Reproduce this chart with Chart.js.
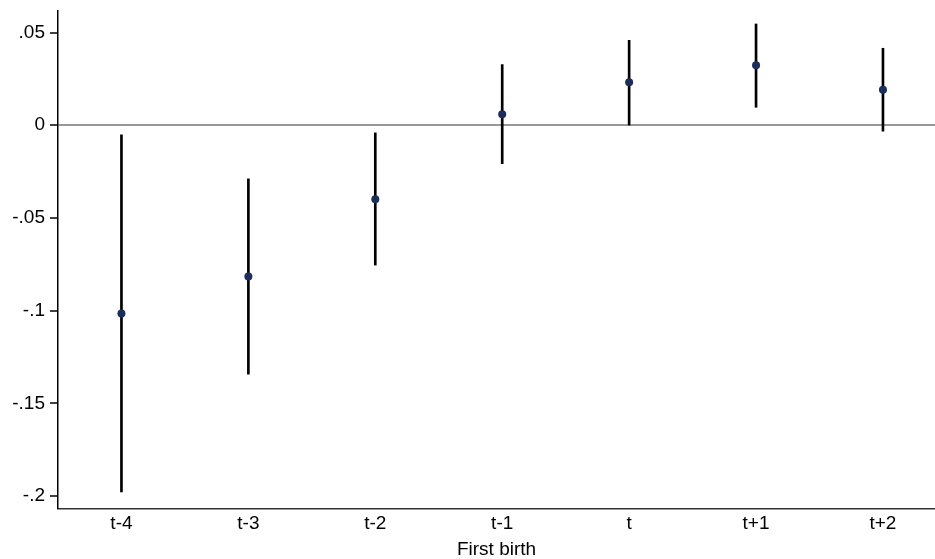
<!DOCTYPE html>
<html>
<head>
<meta charset="utf-8">
<script src="https://cdn.jsdelivr.net/npm/chart.js@4"></script>
<style>
  html, body { margin: 0; padding: 0; background: #fff; }
  #wrap { width: 935px; height: 559px; }
</style>
</head>
<body>
<div id="wrap"><canvas id="grafico"></canvas></div>
<script>
const categorias = ["t-4", "t-3", "t-2", "t-1", "t", "t+1", "t+2"];
const coeficientes = [-0.1015, -0.0816, -0.0399, 0.0059, 0.0232, 0.0323, 0.0192];
const limiteInferior = [-0.1977, -0.1342, -0.0754, -0.0207, 0.0001, 0.0097, -0.0032];
const limiteSuperior = [-0.0051, -0.0289, -0.0041, 0.0327, 0.0458, 0.0546, 0.0415];
const yTicks = [0.05, 0, -0.05, -0.1, -0.15, -0.2];
const yTickLabels = [".05", "0", "-.05", "-.1", "-.15", "-.2"];
const xTitulo = "First birth";

const fonte = "'Liberation Sans', Arial, sans-serif";
const canvas = document.getElementById("grafico");

new Chart(canvas, {
  type: "bar",
  data: {
    datasets: [
      {
        type: "scatter",
        data: categorias.map((c, i) => ({ x: i, y: coeficientes[i] })),
        backgroundColor: "#1b2d5a",
        borderColor: "#1b2d5a",
        pointRadius: 4,
        pointBorderWidth: 0,
        order: 0,
      },
      {
        type: "bar",
        data: categorias.map((c, i) => ({ x: i, y: [limiteInferior[i], limiteSuperior[i]] })),
        backgroundColor: "#000",
        borderWidth: 0,
        barThickness: 2,
        order: 1,
      },
    ],
  },
  options: {
    responsive: true,
    maintainAspectRatio: false,
    animation: false,
    layout: { autoPadding: false, padding: { top: 11, right: 0, left: 0, bottom: 0 } },
    plugins: {
      legend: { display: false },
      tooltip: { enabled: false },
    },
    scales: {
      x: {
        type: "linear",
        offset: false,
        min: -0.5,
        max: 6.41,
        afterBuildTicks: (scale) => {
          scale.ticks = categorias.map((c, i) => ({ value: i }));
        },
        afterFit: (scale) => {
          scale.height = 50;
          scale.paddingLeft = 0;
          scale.paddingRight = 0;
        },
        grid: { display: false, drawTicks: false },
        border: { display: true, color: "#333", width: 1.5 },
        ticks: {
          padding: 3,
          color: "#000",
          font: { family: fonte, size: 19 },
          callback: (v) => categorias[v],
          maxRotation: 0,
          autoSkip: false,
        },
        title: {
          display: true,
          text: xTitulo,
          color: "#000",
          font: { family: fonte, size: 19 },
          padding: { top: 0, bottom: -2 },
        },
      },
      y: {
        type: "linear",
        min: -0.2069,
        max: 0.0616,
        afterBuildTicks: (scale) => {
          scale.ticks = yTicks.map((v) => ({ value: v }));
        },
        afterFit: (scale) => {
          scale.width = 58;
          scale.paddingTop = 0;
          scale.paddingBottom = 0;
        },
        grid: {
          display: true,
          drawOnChartArea: true,
          color: (ctx) => (ctx.tick && ctx.tick.value === 0 ? "#999" : "rgba(0,0,0,0)"),
          lineWidth: (ctx) => (ctx.tick && ctx.tick.value === 0 ? 2 : 0),
          tickColor: "#000",
          tickLength: 8,
          tickWidth: 1.5,
        },
        border: { display: true, color: "#000", width: 1.5 },
        ticks: {
          padding: 5,
          color: "#000",
          font: { family: fonte, size: 19 },
          callback: (v) => yTickLabels[yTicks.indexOf(v)],
        },
      },
    },
  },
});
</script>
</body>
</html>
